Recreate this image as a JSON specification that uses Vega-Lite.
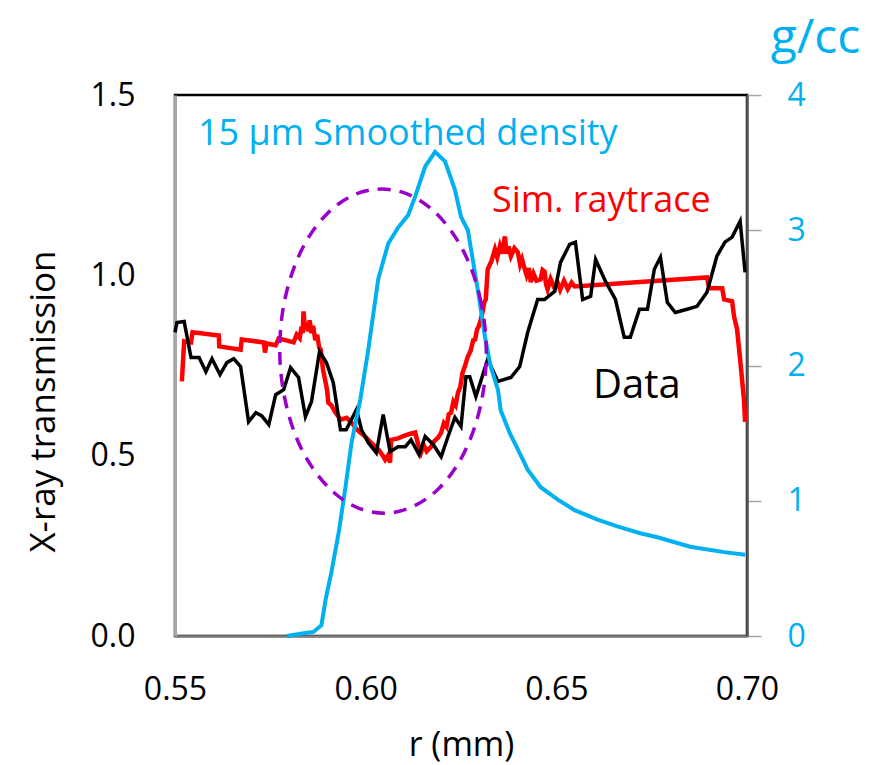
{
  "$schema": "https://vega.github.io/schema/vega-lite/v6.json",
  "width": 572,
  "height": 541,
  "autosize": {"type": "none"},
  "padding": {"left": 175, "top": 95, "right": 137, "bottom": 129},
  "background": "white",
  "config": {
    "font": "Open Sans",
    "view": {"stroke": "#000000", "strokeWidth": 2.5},
    "axis": {"grid": false, "labelFont": "Open Sans", "titleFont": "Open Sans", "titleFontWeight": "normal", "labelColor": "#000000", "titleColor": "#000000"}
  },
  "datasets": {
    "red": [
      {"r": 0.5518, "t": 0.706}, {"r": 0.5524, "t": 0.817}, {"r": 0.5542, "t": 0.814}, {"r": 0.5546, "t": 0.842},
      {"r": 0.5615, "t": 0.833}, {"r": 0.5616, "t": 0.803}, {"r": 0.5672, "t": 0.794}, {"r": 0.5675, "t": 0.822},
      {"r": 0.5733, "t": 0.814}, {"r": 0.5736, "t": 0.786}, {"r": 0.5740, "t": 0.811}, {"r": 0.5764, "t": 0.806},
      {"r": 0.5772, "t": 0.825}, {"r": 0.5811, "t": 0.814}, {"r": 0.5819, "t": 0.836}, {"r": 0.5827, "t": 0.826},
      {"r": 0.5832, "t": 0.858}, {"r": 0.5835, "t": 0.840}, {"r": 0.5837, "t": 0.900}, {"r": 0.5841, "t": 0.850},
      {"r": 0.5845, "t": 0.869}, {"r": 0.5849, "t": 0.845}, {"r": 0.5853, "t": 0.875}, {"r": 0.5858, "t": 0.840},
      {"r": 0.5862, "t": 0.860}, {"r": 0.5868, "t": 0.820}, {"r": 0.5873, "t": 0.835}, {"r": 0.5878, "t": 0.800},
      {"r": 0.5882, "t": 0.794}, {"r": 0.5888, "t": 0.740}, {"r": 0.5895, "t": 0.703}, {"r": 0.5899, "t": 0.680},
      {"r": 0.5902, "t": 0.647}, {"r": 0.5910, "t": 0.640}, {"r": 0.5921, "t": 0.619}, {"r": 0.5935, "t": 0.600},
      {"r": 0.5950, "t": 0.605}, {"r": 0.5963, "t": 0.592}, {"r": 0.5975, "t": 0.575}, {"r": 0.5985, "t": 0.565},
      {"r": 0.5999, "t": 0.553}, {"r": 0.6010, "t": 0.540}, {"r": 0.6025, "t": 0.525}, {"r": 0.6035, "t": 0.515},
      {"r": 0.6045, "t": 0.500}, {"r": 0.6051, "t": 0.489}, {"r": 0.6058, "t": 0.500}, {"r": 0.6064, "t": 0.481},
      {"r": 0.6067, "t": 0.544}, {"r": 0.6085, "t": 0.548}, {"r": 0.6100, "t": 0.555}, {"r": 0.6115, "t": 0.560},
      {"r": 0.6130, "t": 0.564}, {"r": 0.6138, "t": 0.530}, {"r": 0.6145, "t": 0.508}, {"r": 0.6152, "t": 0.530},
      {"r": 0.6160, "t": 0.512}, {"r": 0.6172, "t": 0.525}, {"r": 0.6180, "t": 0.540}, {"r": 0.6190, "t": 0.550},
      {"r": 0.6198, "t": 0.564}, {"r": 0.6205, "t": 0.590}, {"r": 0.6212, "t": 0.580}, {"r": 0.6218, "t": 0.615},
      {"r": 0.6224, "t": 0.619}, {"r": 0.6230, "t": 0.650}, {"r": 0.6236, "t": 0.640}, {"r": 0.6242, "t": 0.675},
      {"r": 0.6248, "t": 0.690}, {"r": 0.6254, "t": 0.730}, {"r": 0.6260, "t": 0.747}, {"r": 0.6265, "t": 0.765},
      {"r": 0.6268, "t": 0.775}, {"r": 0.6275, "t": 0.790}, {"r": 0.6282, "t": 0.820}, {"r": 0.6287, "t": 0.822},
      {"r": 0.6292, "t": 0.850}, {"r": 0.6297, "t": 0.860}, {"r": 0.6302, "t": 0.878}, {"r": 0.6307, "t": 0.900},
      {"r": 0.6311, "t": 0.925}, {"r": 0.6315, "t": 0.933}, {"r": 0.6318, "t": 0.985}, {"r": 0.6320, "t": 1.017},
      {"r": 0.6330, "t": 1.040}, {"r": 0.6339, "t": 1.072}, {"r": 0.6345, "t": 1.050}, {"r": 0.6352, "t": 1.081},
      {"r": 0.6358, "t": 1.060}, {"r": 0.6365, "t": 1.108}, {"r": 0.6370, "t": 1.060}, {"r": 0.6375, "t": 1.080},
      {"r": 0.6381, "t": 1.053}, {"r": 0.6390, "t": 1.075}, {"r": 0.6399, "t": 1.064}, {"r": 0.6405, "t": 1.030},
      {"r": 0.6410, "t": 1.045}, {"r": 0.6417, "t": 1.017}, {"r": 0.6422, "t": 1.000}, {"r": 0.6428, "t": 1.020},
      {"r": 0.6433, "t": 0.981}, {"r": 0.6440, "t": 1.005}, {"r": 0.6448, "t": 0.985}, {"r": 0.6459, "t": 0.989},
      {"r": 0.6464, "t": 1.015}, {"r": 0.6469, "t": 1.011}, {"r": 0.6473, "t": 0.975}, {"r": 0.6477, "t": 0.961},
      {"r": 0.6485, "t": 0.990}, {"r": 0.6495, "t": 0.965}, {"r": 0.6503, "t": 0.981}, {"r": 0.6510, "t": 0.960},
      {"r": 0.6520, "t": 0.985}, {"r": 0.6530, "t": 0.962}, {"r": 0.6540, "t": 0.980}, {"r": 0.6548, "t": 0.969},
      {"r": 0.6895, "t": 0.994}, {"r": 0.6901, "t": 0.964}, {"r": 0.6935, "t": 0.964}, {"r": 0.6940, "t": 0.933},
      {"r": 0.6961, "t": 0.928}, {"r": 0.6966, "t": 0.886}, {"r": 0.6974, "t": 0.850}, {"r": 0.6982, "t": 0.767},
      {"r": 0.6992, "t": 0.656}, {"r": 0.6995, "t": 0.594}
    ],
    "black": [
      {"r": 0.5500, "t": 0.842}, {"r": 0.5505, "t": 0.869}, {"r": 0.5524, "t": 0.872}, {"r": 0.5542, "t": 0.772},
      {"r": 0.5563, "t": 0.772}, {"r": 0.5581, "t": 0.733}, {"r": 0.5597, "t": 0.769}, {"r": 0.5618, "t": 0.725},
      {"r": 0.5636, "t": 0.758}, {"r": 0.5654, "t": 0.769}, {"r": 0.5672, "t": 0.747}, {"r": 0.5693, "t": 0.594},
      {"r": 0.5712, "t": 0.619}, {"r": 0.5727, "t": 0.611}, {"r": 0.5746, "t": 0.586}, {"r": 0.5764, "t": 0.669},
      {"r": 0.5785, "t": 0.683}, {"r": 0.5803, "t": 0.744}, {"r": 0.5824, "t": 0.717}, {"r": 0.5842, "t": 0.608},
      {"r": 0.5858, "t": 0.650}, {"r": 0.5879, "t": 0.789}, {"r": 0.5897, "t": 0.758}, {"r": 0.5915, "t": 0.703},
      {"r": 0.5934, "t": 0.572}, {"r": 0.5949, "t": 0.572}, {"r": 0.5976, "t": 0.628}, {"r": 0.5989, "t": 0.572},
      {"r": 0.6007, "t": 0.536}, {"r": 0.6028, "t": 0.508}, {"r": 0.6046, "t": 0.614}, {"r": 0.6064, "t": 0.511},
      {"r": 0.6085, "t": 0.525}, {"r": 0.6104, "t": 0.525}, {"r": 0.6119, "t": 0.544}, {"r": 0.6140, "t": 0.503},
      {"r": 0.6156, "t": 0.553}, {"r": 0.6177, "t": 0.531}, {"r": 0.6198, "t": 0.497}, {"r": 0.6216, "t": 0.553},
      {"r": 0.6234, "t": 0.606}, {"r": 0.6250, "t": 0.581}, {"r": 0.6263, "t": 0.719}, {"r": 0.6273, "t": 0.719},
      {"r": 0.6289, "t": 0.664}, {"r": 0.6320, "t": 0.767}, {"r": 0.6347, "t": 0.706}, {"r": 0.6381, "t": 0.717},
      {"r": 0.6404, "t": 0.747}, {"r": 0.6425, "t": 0.842}, {"r": 0.6451, "t": 0.933}, {"r": 0.6469, "t": 0.933},
      {"r": 0.6496, "t": 0.956}, {"r": 0.6511, "t": 1.036}, {"r": 0.6535, "t": 1.086}, {"r": 0.6550, "t": 1.092},
      {"r": 0.6569, "t": 0.933}, {"r": 0.6590, "t": 0.942}, {"r": 0.6603, "t": 1.044}, {"r": 0.6629, "t": 0.983},
      {"r": 0.6655, "t": 0.933}, {"r": 0.6678, "t": 0.828}, {"r": 0.6694, "t": 0.828}, {"r": 0.6718, "t": 0.906},
      {"r": 0.6739, "t": 0.906}, {"r": 0.6757, "t": 1.017}, {"r": 0.6773, "t": 1.050}, {"r": 0.6791, "t": 0.925},
      {"r": 0.6812, "t": 0.897}, {"r": 0.6843, "t": 0.906}, {"r": 0.6869, "t": 0.914}, {"r": 0.6895, "t": 0.953},
      {"r": 0.6921, "t": 1.053}, {"r": 0.6942, "t": 1.092}, {"r": 0.6961, "t": 1.106}, {"r": 0.6982, "t": 1.150},
      {"r": 0.6995, "t": 1.008}
    ],
    "blue": [
      {"r": 0.5793, "rho": 0.0}, {"r": 0.5842, "rho": 0.022}, {"r": 0.5863, "rho": 0.03}, {"r": 0.5884, "rho": 0.08},
      {"r": 0.5895, "rho": 0.27}, {"r": 0.5910, "rho": 0.47}, {"r": 0.5929, "rho": 0.76}, {"r": 0.5947, "rho": 1.10},
      {"r": 0.5963, "rho": 1.43}, {"r": 0.5986, "rho": 1.75}, {"r": 0.6007, "rho": 2.12}, {"r": 0.6033, "rho": 2.64},
      {"r": 0.6059, "rho": 2.90}, {"r": 0.6085, "rho": 3.02}, {"r": 0.6111, "rho": 3.11}, {"r": 0.6130, "rho": 3.25},
      {"r": 0.6156, "rho": 3.47}, {"r": 0.6182, "rho": 3.58}, {"r": 0.6208, "rho": 3.51}, {"r": 0.6234, "rho": 3.30},
      {"r": 0.6250, "rho": 3.10}, {"r": 0.6268, "rho": 3.00}, {"r": 0.6294, "rho": 2.56}, {"r": 0.6313, "rho": 2.21},
      {"r": 0.6328, "rho": 1.99}, {"r": 0.6347, "rho": 1.82}, {"r": 0.6354, "rho": 1.67}, {"r": 0.6378, "rho": 1.50},
      {"r": 0.6399, "rho": 1.38}, {"r": 0.6425, "rho": 1.23}, {"r": 0.6459, "rho": 1.10}, {"r": 0.6503, "rho": 1.01},
      {"r": 0.6548, "rho": 0.93}, {"r": 0.6608, "rho": 0.86}, {"r": 0.6660, "rho": 0.81}, {"r": 0.6720, "rho": 0.76},
      {"r": 0.6765, "rho": 0.73}, {"r": 0.6851, "rho": 0.66}, {"r": 0.6940, "rho": 0.62}, {"r": 0.6995, "rho": 0.60}
    ],
    "ellipse": [
      {"i": 0, "r": 0.6316, "t": 0.807}, {"i": 1, "r": 0.6303, "t": 0.923}, {"i": 2, "r": 0.6273, "t": 1.029},
      {"i": 3, "r": 0.6227, "t": 1.119}, {"i": 4, "r": 0.6169, "t": 1.187}, {"i": 5, "r": 0.6103, "t": 1.228},
      {"i": 6, "r": 0.6032, "t": 1.239}, {"i": 7, "r": 0.5963, "t": 1.220}, {"i": 8, "r": 0.5899, "t": 1.171},
      {"i": 9, "r": 0.5845, "t": 1.096}, {"i": 10, "r": 0.5805, "t": 1.000}, {"i": 11, "r": 0.5781, "t": 0.890},
      {"i": 12, "r": 0.5775, "t": 0.773}, {"i": 13, "r": 0.5788, "t": 0.658}, {"i": 14, "r": 0.5818, "t": 0.551},
      {"i": 15, "r": 0.5864, "t": 0.461}, {"i": 16, "r": 0.5922, "t": 0.393}, {"i": 17, "r": 0.5988, "t": 0.352},
      {"i": 18, "r": 0.6059, "t": 0.341}, {"i": 19, "r": 0.6128, "t": 0.361}, {"i": 20, "r": 0.6192, "t": 0.409},
      {"i": 21, "r": 0.6246, "t": 0.484}, {"i": 22, "r": 0.6286, "t": 0.580}, {"i": 23, "r": 0.6310, "t": 0.690}
    ],
    "labels": [
      {"label": "15 μm Smoothed density", "r": 0.5560, "t": 1.361},
      {"label": "Sim. raytrace", "r": 0.6331, "t": 1.175},
      {"label": "Data", "r": 0.6596, "t": 0.660}
    ]
  },
  "encoding": {
    "x": {
      "field": "r", "type": "quantitative",
      "scale": {"domain": [0.55, 0.70], "nice": false, "zero": false},
      "axis": {
        "values": [0.55, 0.60, 0.65, 0.70], "format": ".2f",
        "labelFontSize": 32, "labelPadding": 38, "ticks": false,
        "domainColor": "#7f7f7f", "domainWidth": 2.5,
        "title": "r (mm)", "titleFontSize": 34, "titleBaseline": "alphabetic", "titleY": 119,
        "labelFlush": false
      }
    }
  },
  "layer": [
    {
      "data": {"name": "red"},
      "mark": {"type": "line", "color": "#ff0000", "strokeWidth": 4.5},
      "encoding": {
        "y": {
          "field": "t", "type": "quantitative",
          "scale": {"domain": [0, 1.5], "nice": false, "zero": false},
          "axis": {
            "values": [0, 0.5, 1.0, 1.5], "format": ".1f",
            "labelFontSize": 32, "labelPadding": 40, "ticks": false,
            "domainColor": "#a6a6a6", "domainWidth": 3,
            "title": "X-ray transmission", "titleFontSize": 35, "titleAngle": -90,
            "titleBaseline": "alphabetic", "titleX": -121, "titleY": 306
          }
        }
      }
    },
    {
      "data": {"name": "black"},
      "mark": {"type": "line", "color": "#000000", "strokeWidth": 3.5},
      "encoding": {
        "y": {"field": "t", "type": "quantitative", "scale": {"domain": [0, 1.5], "nice": false, "zero": false}, "axis": null}
      }
    },
    {
      "data": {"name": "blue"},
      "mark": {"type": "line", "color": "#00b0f0", "strokeWidth": 4},
      "encoding": {
        "y": {
          "field": "rho", "type": "quantitative",
          "scale": {"domain": [0, 4], "nice": false, "zero": false},
          "axis": {
            "orient": "right", "values": [0, 1, 2, 3, 4], "format": "d",
            "labelFontSize": 32, "labelColor": "#00b0f0", "labelPadding": 26,
            "ticks": true, "tickSize": 14, "tickColor": "#a6a6a6", "tickWidth": 1.5,
            "domainColor": "#595959", "domainWidth": 2.5,
            "title": "g/cc", "titleColor": "#00b0f0", "titleFontSize": 48, "titleAngle": 0,
            "titleAlign": "center", "titleBaseline": "alphabetic", "titleX": 68, "titleY": -43
          }
        }
      }
    },
    {
      "data": {"name": "ellipse"},
      "mark": {"type": "line", "color": "#9900cc", "strokeWidth": 3.5, "strokeDash": [13, 9], "interpolate": "cardinal-closed"},
      "encoding": {
        "y": {"field": "t", "type": "quantitative", "scale": {"domain": [0, 1.5], "nice": false, "zero": false}, "axis": null},
        "order": {"field": "i", "type": "quantitative"}
      }
    },
    {
      "data": {"name": "labels"},
      "transform": [{"filter": "datum.label === '15 μm Smoothed density'"}],
      "mark": {"type": "text", "color": "#00b0f0", "fontSize": 36, "align": "left", "baseline": "alphabetic", "font": "Open Sans"},
      "encoding": {
        "y": {"field": "t", "type": "quantitative", "scale": {"domain": [0, 1.5], "nice": false, "zero": false}, "axis": null},
        "text": {"field": "label"}
      }
    },
    {
      "data": {"name": "labels"},
      "transform": [{"filter": "datum.label === 'Sim. raytrace'"}],
      "mark": {"type": "text", "color": "#ff0000", "fontSize": 36, "align": "left", "baseline": "alphabetic", "font": "Open Sans"},
      "encoding": {
        "y": {"field": "t", "type": "quantitative", "scale": {"domain": [0, 1.5], "nice": false, "zero": false}, "axis": null},
        "text": {"field": "label"}
      }
    },
    {
      "data": {"name": "labels"},
      "transform": [{"filter": "datum.label === 'Data'"}],
      "mark": {"type": "text", "color": "#000000", "fontSize": 40, "align": "left", "baseline": "alphabetic", "font": "Open Sans"},
      "encoding": {
        "y": {"field": "t", "type": "quantitative", "scale": {"domain": [0, 1.5], "nice": false, "zero": false}, "axis": null},
        "text": {"field": "label"}
      }
    }
  ],
  "resolve": {"scale": {"y": "independent"}, "axis": {"y": "independent"}}
}
